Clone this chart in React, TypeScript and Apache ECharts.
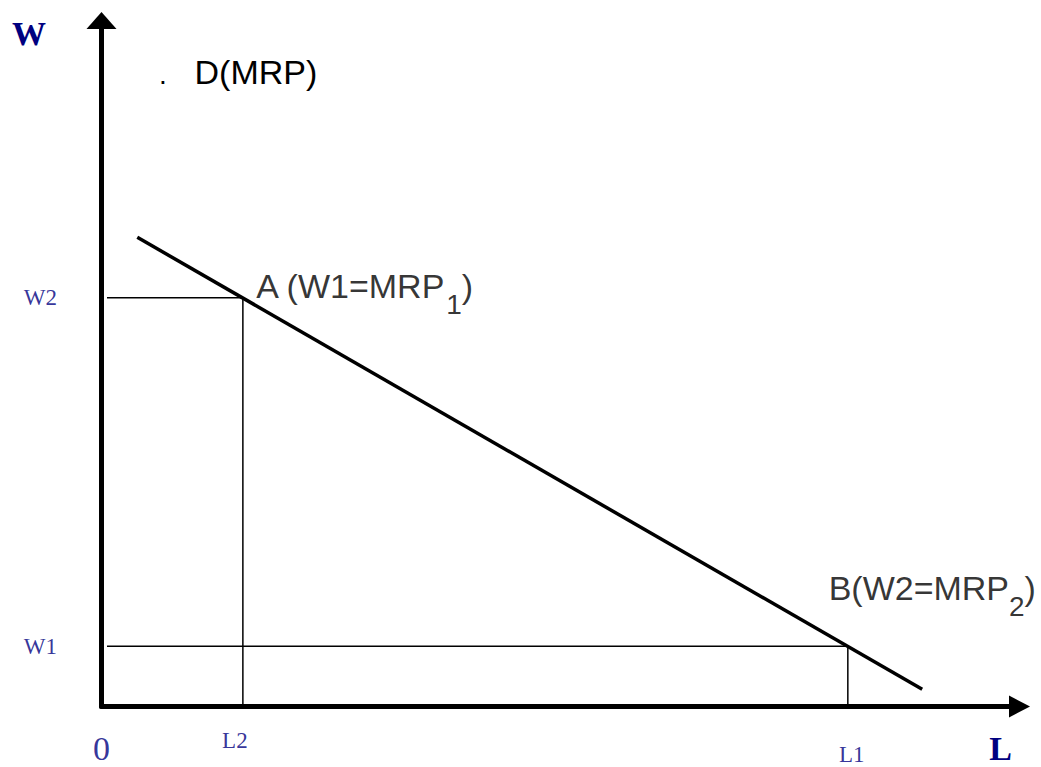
import React, { useEffect, useRef } from "react";
import * as echarts from "echarts";

// Demand (MRP) curve end points
const demandL = [3.9, 89.4];
const demandW = [68.4, 2.5];

// Equilibrium points
const pointNames = ["A", "B"];
const pointL = [15.4, 81.3];
const pointW = [59.6, 8.8];
const pointTexts = ["{m|A (W1=MRP}{s|1}{m|)}", "{m|B(W2=MRP}{s|2}{m|)}"];

// Tick labels
const wTickLabels = ["W2", "W1"];
const lTickLabels = ["L2", "L1"];
const originLabel = "0";
const curveLabel = "D(MRP)";
const axisNames = ["W", "L"];

const NAVY = "#000080";
const SANS = "Liberation Sans, Arial, sans-serif";
const SERIF = "Liberation Serif, Times New Roman, serif";

export default function App() {
  const ref = useRef<HTMLDivElement>(null);

  useEffect(() => {
    if (!ref.current) return;
    const chart = echarts.init(ref.current, undefined, { renderer: "svg" });

    const guideA = [
      [0.6, pointW[0]],
      [pointL[0], pointW[0]],
      [pointL[0], 0],
    ];
    const guideB = [
      [0.6, pointW[1]],
      [pointL[1], pointW[1]],
      [pointL[1], 0],
    ];

    const tickStyle = { fontFamily: SERIF, fontSize: 23, color: NAVY };

    const labelData: any[] = [
      {
        value: [0, pointW[0]],
        label: { formatter: wTickLabels[0], position: "left", distance: 44, ...tickStyle },
      },
      {
        value: [0, pointW[1]],
        label: { formatter: wTickLabels[1], position: "left", distance: 44, ...tickStyle },
      },
      {
        value: [pointL[0], 0],
        label: { formatter: lTickLabels[0], position: "bottom", distance: 21.5, offset: [-8, 0], ...tickStyle },
      },
      {
        value: [pointL[1], 0],
        label: { formatter: lTickLabels[1], position: "bottom", distance: 36, offset: [4, 0], ...tickStyle },
      },
      {
        value: [0, 0],
        label: { formatter: originLabel, position: "bottom", distance: 24.5, offset: [0, 0], fontFamily: SERIF, fontSize: 34, color: NAVY },
      },
    ];

    const rich = {
      m: { fontFamily: SANS, fontSize: 34, color: "#000", lineHeight: 34 },
      s: { fontFamily: SANS, fontSize: 28, color: "#000", lineHeight: 28, padding: [38, 0, 0, 0] },
    };
    const pointOffsets = [
      [14, -28.5],
      [-18.7, -75],
    ];
    pointNames.forEach((n, i) => {
      labelData.push({
        name: n,
        value: [pointL[i], pointW[i]],
        label: { formatter: pointTexts[i], position: pointOffsets[i], color: "#000", rich },
      });
    });

    const option: any = {
      animation: false,
      backgroundColor: "#fff",
      grid: { left: 101.5, right: 21.5, top: 20.5, bottom: 60.5, containLabel: false },
      xAxis: {
        type: "value",
        min: 0,
        max: 100,
        axisLine: {
          show: true,
          symbol: ["none", "triangle"],
          symbolSize: [22, 21],
          lineStyle: { color: "#000", width: 5, cap: "round" },
        },
        axisTick: { show: false },
        axisLabel: { show: false },
        splitLine: { show: false },
      },
      yAxis: {
        type: "value",
        min: 0,
        max: 100,
        axisLine: {
          show: true,
          symbol: ["none", "triangle"],
          symbolSize: [30, 17],
          lineStyle: { color: "#000", width: 5, cap: "round" },
        },
        axisTick: { show: false },
        axisLabel: { show: false },
        splitLine: { show: false },
      },
      series: [
        {
          type: "line",
          data: guideA,
          symbol: "none",
          lineStyle: { color: "#000", width: 1.5 },
          z: 1,
        },
        {
          type: "line",
          data: guideB,
          symbol: "none",
          lineStyle: { color: "#000", width: 1.5 },
          z: 1,
        },
        {
          type: "line",
          data: demandL.map((l, i) => [l, demandW[i]]),
          symbol: "none",
          lineStyle: { color: "#000", width: 3.5 },
          z: 2,
        },
        {
          type: "scatter",
          data: labelData,
          symbolSize: 1,
          itemStyle: { color: "rgba(0,0,0,0)" },
          label: { show: true },
          z: 3,
        },
      ],
      graphic: [
        {
          type: "text",
          x: 29,
          y: 33.5,
          style: { text: axisNames[0], align: "center", verticalAlign: "middle", font: `bold 34px ${SERIF}`, fill: NAVY },
        },
        {
          type: "text",
          x: 1000.5,
          y: 748.5,
          style: { text: axisNames[1], align: "center", verticalAlign: "middle", font: `bold 34px ${SERIF}`, fill: NAVY },
        },
        {
          type: "text",
          x: 194.5,
          y: 71.5,
          style: { text: curveLabel, align: "left", verticalAlign: "middle", font: `34px ${SANS}`, fill: "#000" },
        },
        {
          type: "text",
          x: 159,
          y: 74.3,
          style: { text: ".", align: "left", verticalAlign: "middle", font: `28px ${SANS}`, fill: "#000" },
        },
      ],
    };

    chart.setOption(option);
    return () => chart.dispose();
  }, []);

  return (
    <div
      ref={ref}
      style={{ position: "absolute", left: 0, top: 0, width: 1041, height: 767, background: "#fff" }}
    />
  );
}
